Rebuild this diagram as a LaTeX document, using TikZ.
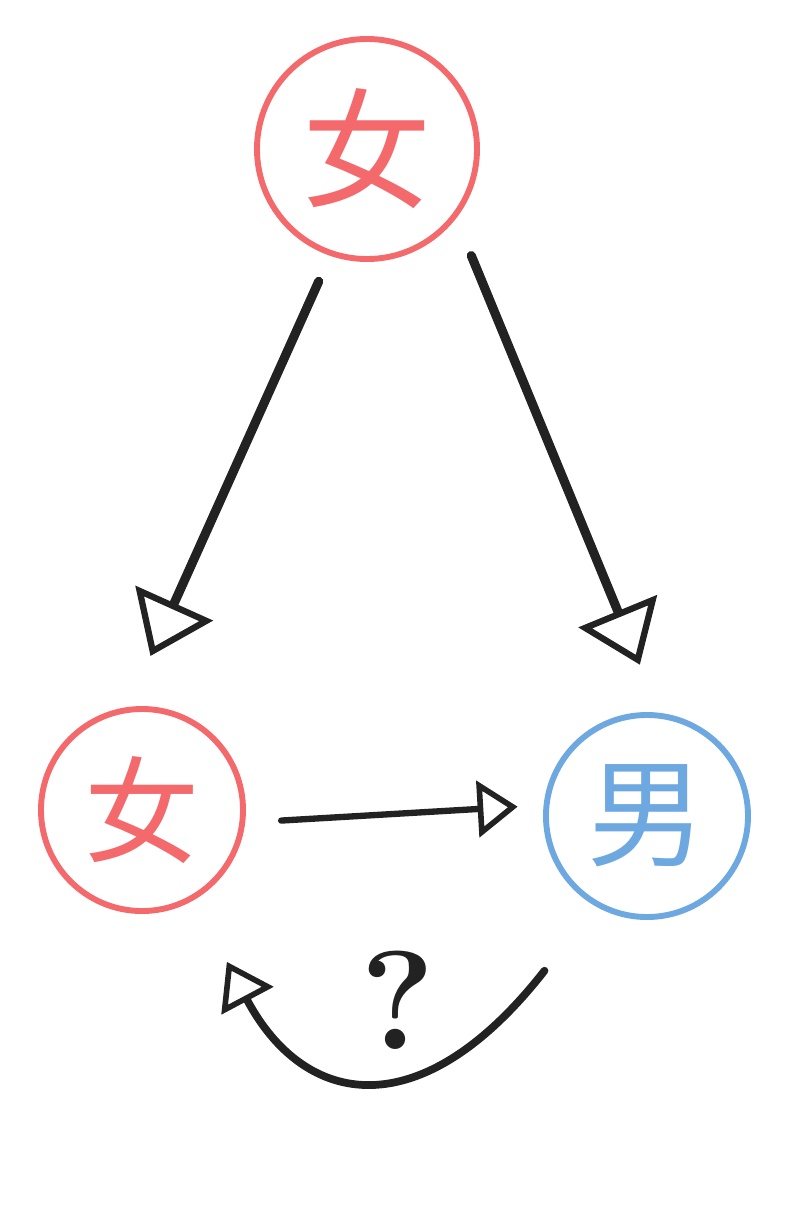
\documentclass[tikz,border=0pt]{standalone}
\usepackage{fontspec}
\newfontfamily\cjk{Noto Sans CJK SC}
\usetikzlibrary{arrows.meta, positioning, calc}
\definecolor{girlred}{HTML}{F46A6C}
\definecolor{boyblue}{HTML}{6EA8E0}
\definecolor{ink}{HTML}{222222}

\begin{document}
\begin{tikzpicture}[x=0.025cm, y=-0.025cm,
    person/.style={circle, draw, line width=4.2pt, inner sep=0pt},
    link/.style={draw=ink, line width=6.5pt, line cap=round,
      -{Triangle[open, length=1.45cm, width=2.1cm, line width=4.5pt]}}]
  \useasboundingbox[fill=white] (0,0) rectangle (800,1206);

  % People
  \node[person, girlred, minimum size=5.5cm, font=\cjk\fontsize{92}{92}\selectfont]
    (mom) at (367,149) {女};
  \node[person, girlred, minimum size=5.05cm, font=\cjk\fontsize{82}{82}\selectfont]
    (girl) at (142,810) {女};
  \node[person, boyblue, minimum size=5.05cm, font=\cjk\fontsize{84}{84}\selectfont]
    (boy) at (647,816) {男};

  % Arrows from the top
  \draw[link, shorten <=0.7cm, shorten >=1.4cm] (mom.251) -- (girl.98);
  \draw[link, shorten <=1.0cm, shorten >=1.3cm] (mom.322) -- (boy.83);

  % Arrow between the two below
  \draw[link, line width=4.5pt, shorten <=0.9cm, shorten >=0.65cm,
    -{Triangle[open, length=1.0cm, width=1.4cm, line width=4pt]}]
    (girl.-7) -- (boy.174);

  % Way back, unknown
  \draw[link, line width=5.5pt, shorten <=2.05cm, shorten >=1.75cm,
    -{Triangle[open, length=1.1cm, width=1.45cm, line width=4pt]}]
    (boy.240) to[out=232, in=-62, out looseness=1.8, in looseness=1.5] (girl.300);
  \node[text=ink, font=\bfseries\fontsize{100}{100}\selectfont] (ask) at (398,1000) {?};
\end{tikzpicture}
\end{document}
